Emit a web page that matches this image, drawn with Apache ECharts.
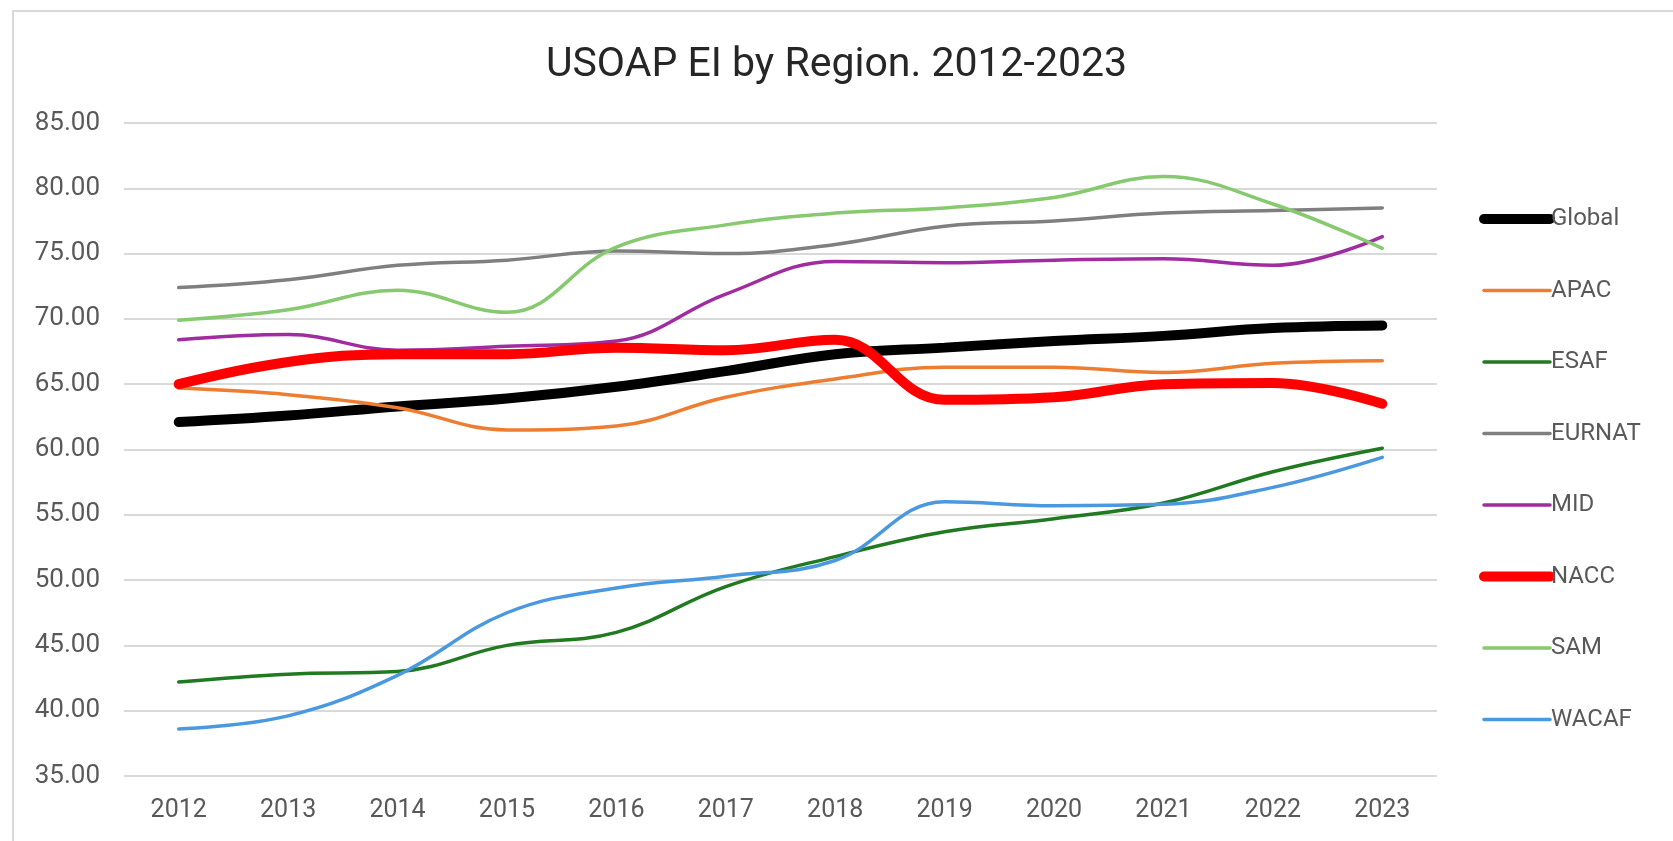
<!DOCTYPE html>
<html>
<head>
<meta charset="utf-8">
<script src="https://cdn.jsdelivr.net/npm/echarts@6/dist/echarts.min.js"></script>
<style>
  html, body { margin: 0; padding: 0; background: #fff; }
  #main { width: 1673px; height: 841px; }
</style>
</head>
<body>
<div id="main"></div>
<script>
// years on the x axis
var years = ["2012", "2013", "2014", "2015", "2016", "2017", "2018", "2019", "2020", "2021", "2022", "2023"];

// EI values per region
var globalEI = [62.1, 62.6, 63.3, 63.9, 64.8, 66.0, 67.3, 67.8, 68.3, 68.7, 69.3, 69.5];
var apac = [64.7, 64.2, 63.2, 61.5, 61.8, 64.0, 65.4, 66.3, 66.3, 65.9, 66.6, 66.8];
var esaf = [42.2, 42.8, 43.0, 45.0, 46.0, 49.5, 51.8, 53.7, 54.7, 55.9, 58.3, 60.1];
var eurnat = [72.4, 73.0, 74.1, 74.5, 75.2, 75.0, 75.7, 77.1, 77.5, 78.1, 78.3, 78.5];
var mid = [68.4, 68.8, 67.6, 67.9, 68.3, 71.9, 74.4, 74.3, 74.5, 74.6, 74.1, 76.3];
var nacc = [65.0, 66.7, 67.3, 67.3, 67.8, 67.6, 68.4, 63.8, 64.0, 65.0, 65.1, 63.5];
var sam = [69.9, 70.7, 72.2, 70.5, 75.5, 77.2, 78.1, 78.5, 79.3, 80.9, 78.8, 75.4];
var wacaf = [38.6, 39.6, 42.7, 47.5, 49.4, 50.3, 51.5, 56.0, 55.7, 55.8, 57.1, 59.4];

var regionNames = ["Global", "APAC", "ESAF", "EURNAT", "MID", "NACC", "SAM", "WACAF"];
var thickNames = ["Global", "NACC"];

var FONT = "Roboto, 'Noto Sans', sans-serif";

function makeLine(name, data, color, width) {
  return {
    name: name,
    type: "line",
    data: data,
    smooth: 0.4,
    symbol: "none",
    lineStyle: { color: color, width: width, cap: "round" },
    itemStyle: { color: color }
  };
}

// legend lines keep the thick/thin look of the series
var legendData = regionNames.map(function (n) {
  var w = thickNames.indexOf(n) >= 0 ? 10 : 3.5;
  return { name: n, lineStyle: { width: w, cap: "round" } };
});

var chart = echarts.init(document.getElementById("main"));
chart.setOption({
  backgroundColor: "#fff",
  animation: false,
  title: {
    text: "USOAP EI by Region. 2012-2023",
    left: "center",
    top: 40,
    textStyle: { fontFamily: FONT, fontSize: 41, fontWeight: "normal", color: "#262626" }
  },
  graphic: [
    {
      type: "rect",
      shape: { x: 13, y: 11, width: 1700, height: 900 },
      style: { fill: "none", stroke: "#d9d9d9", lineWidth: 2 },
      silent: true
    }
  ],
  grid: { left: 124, right: 236, top: 123, bottom: 65 },
  legend: {
    orient: "vertical",
    left: 1479,
    top: 207,
    itemWidth: 66,
    itemHeight: 14,
    itemGap: 47.5,
    padding: 0,
    data: legendData,
    itemStyle: { opacity: 0 },
    textStyle: { fontFamily: FONT, fontSize: 24, color: "#595959", padding: [0, 0, 0, -4] }
  },
  xAxis: {
    type: "category",
    data: years,
    boundaryGap: true,
    axisLine: { show: false },
    axisTick: { show: false },
    axisLabel: { fontFamily: FONT, fontSize: 25, color: "#595959", margin: 22 }
  },
  yAxis: {
    type: "value",
    min: 35,
    max: 85,
    interval: 5,
    axisLine: { show: false },
    axisTick: { show: false },
    axisLabel: {
      fontFamily: FONT,
      fontSize: 26,
      color: "#595959",
      margin: 24,
      formatter: function (v) { return v.toFixed(2); }
    },
    splitLine: { lineStyle: { color: "#d9d9d9", width: 2 } }
  },
  series: [
    makeLine("Global", globalEI, "#000000", 10),
    makeLine("APAC", apac, "#ED7D31", 3.5),
    makeLine("ESAF", esaf, "#217A21", 3.5),
    makeLine("EURNAT", eurnat, "#7F7F7F", 3.5),
    makeLine("MID", mid, "#A02CA0", 3.5),
    makeLine("NACC", nacc, "#FF0000", 10),
    makeLine("SAM", sam, "#86C96E", 3.5),
    makeLine("WACAF", wacaf, "#4A98E0", 3.5)
  ]
});
</script>
</body>
</html>
